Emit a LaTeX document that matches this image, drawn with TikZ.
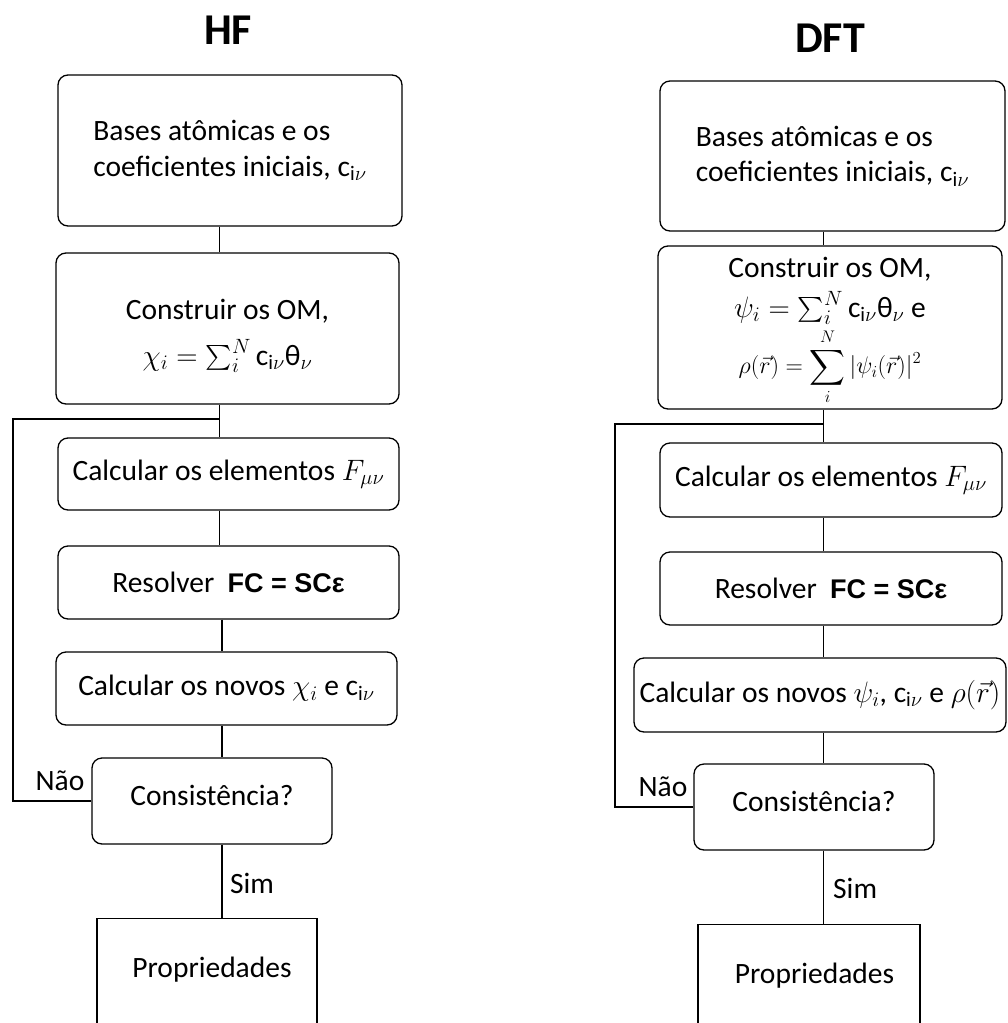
\RequirePackage{fix-cm}
\documentclass[tikz,border=0pt]{standalone}
\usepackage{exscale}
\usepackage{fontspec}
\setmainfont{Carlito}
\newfontfamily\eqfont{Liberation Sans}
\usetikzlibrary{calc}

\newcommand\bodyfont{\fontsize{29.5}{35.5}\selectfont}
\newcommand\civ{\mathrm{c}_{\mathrm{i}\nu}}

\tikzset{
  flowbox/.style={draw=black, line width=1.3pt, rounded corners=10pt,
    inner sep=0pt, align=center, font=\bodyfont},
  plainbox/.style={draw=black, line width=1.3pt, inner sep=0pt},
  link/.style={draw=black, line width=1.3pt},
  heading/.style={font=\fontsize{44}{50}\selectfont\bfseries, inner sep=0pt},
  tag/.style={font=\bodyfont, inner sep=0pt, anchor=base},
}

\begin{document}
\begin{tikzpicture}[x=1pt, y=-1pt]
\useasboundingbox (0,0) rectangle (1008,1023);
\fill[white] (0,0) rectangle (1008,1023);
\clip (0,0) rectangle (1008,1023);

% ---------------- Hartree-Fock column ----------------
\node[heading] (hft) at (228,30) {HF};

\node[flowbox, align=left, minimum width=344pt, minimum height=151pt] (hf1) at (230,150.5)
  {Bases atômicas e os\\coeficientes iniciais, $\civ$};
\node[flowbox, minimum width=343pt, minimum height=151pt] (hf2) at (227.5,328.5)
  {\rule{0pt}{35pt}Construir os OM,\\[10pt]$\chi_i = \sum_i^N \civ$θ$_\nu$};
\node[flowbox, minimum width=341pt, minimum height=72pt] (hf3) at (228.5,474)
  {Calcular os elementos $F_{\mu\nu}$};
\node[flowbox, minimum width=341pt, minimum height=73pt] (hf4) at (228.5,582.5)
  {Resolver\ \ {\eqfont\fontsize{27}{32}\selectfont\bfseries FC = SCε}};
\node[flowbox, minimum width=341pt, minimum height=73pt] (hf5) at (226.5,688.5)
  {Calcular os novos $\chi_i$ e $\civ$};
\node[flowbox, text depth=12pt, minimum width=240pt, minimum height=86pt] (hf6) at (212,801)
  {Consistência?};
\node[plainbox, anchor=north, minimum width=220pt, minimum height=200pt] (hf7) at (207,918) {};
\node[tag] (hf7t) at (212,977) {Propriedades};

\coordinate (hfx) at (219.5,0);
\coordinate (hfy) at (222,0);
\coordinate (hfloop) at (13,419);
\draw[link] (hf1.south -| hfx) -- (hf2.north -| hfx);
\draw[link] (hf2.south -| hfx) -- (hf3.north -| hfx);
\draw[link] (hf3.south -| hfx) -- (hf4.north -| hfx);
\draw[link] (hf4.south -| hfy) -- (hf5.north -| hfy);
\draw[link] (hf5.south -| hfy) -- (hf6.north -| hfy);
\draw[link] (hf6.south -| hfy) -- (hf7.north -| hfy);
\draw[link] (hfloop -| hfx) -- (hfloop) |- (hf6.west);
\node[tag] (hfno) at (60,790) {Não};
\node[tag, anchor=base west] (hfyes) at (230,893) {Sim};

% ---------------- DFT column ----------------
\node[heading] (dft) at (830,38) {DFT};

\node[flowbox, align=left, minimum width=345pt, minimum height=150pt] (df1) at (832.5,156)
  {Bases atômicas e os\\coeficientes iniciais, $\civ$};
\node[flowbox, minimum width=344pt, minimum height=163pt] (df2) at (830,327.5)
  {\rule{0pt}{28pt}Construir os OM,\\[4pt]$\psi_i = \sum_i^N \civ$θ$_\nu$ e\\[3pt]
   {\fontsize{24}{27}\selectfont $\rho(\vec r) = \displaystyle\sum_i^N |\psi_i(\vec r)|^2$}};
\node[flowbox, minimum width=342pt, minimum height=74pt] (df3) at (831,480)
  {Calcular os elementos $F_{\mu\nu}$};
\node[flowbox, minimum width=342pt, minimum height=73pt] (df4) at (831,588.5)
  {Resolver\ \ {\eqfont\fontsize{27}{32}\selectfont\bfseries FC = SCε}};
\node[flowbox, minimum width=372pt, minimum height=74pt] (df5) at (820,695)
  {Calcular os novos $\psi_i$, $\civ$ e $\rho(\vec r)$};
\node[flowbox, text depth=12pt, minimum width=240pt, minimum height=86pt] (df6) at (814,807)
  {Consistência?};
\node[plainbox, anchor=north, minimum width=222pt, minimum height=200pt] (df7) at (809,924) {};
\node[tag] (df7t) at (814.5,983) {Propriedades};

\coordinate (dfx) at (823.5,0);
\coordinate (dfloop) at (615,424);
\draw[link] (df1.south -| dfx) -- (df2.north -| dfx);
\draw[link] (df2.south -| dfx) -- (df3.north -| dfx);
\draw[link] (df3.south -| dfx) -- (df4.north -| dfx);
\draw[link] (df4.south -| dfx) -- (df5.north -| dfx);
\draw[link] (df5.south -| dfx) -- (df6.north -| dfx);
\draw[link] (df6.south -| dfx) -- (df7.north -| dfx);
\draw[link] (dfloop -| dfx) -- (dfloop) |- (df6.west);
\node[tag] (dfno) at (663,796) {Não};
\node[tag, anchor=base west] (dfyes) at (833,898) {Sim};
\end{tikzpicture}
\end{document}
